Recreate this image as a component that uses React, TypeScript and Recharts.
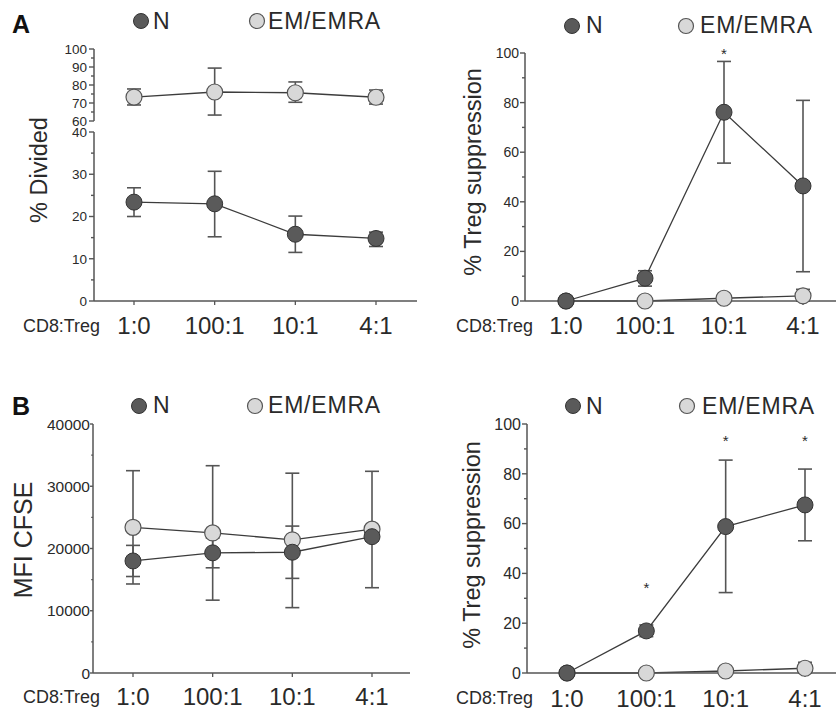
import React from 'react';
import { LineChart, Line, XAxis, YAxis, ErrorBar, ReferenceDot } from 'recharts';

// ---------- data ----------
const categories = ['1:0', '100:1', '10:1', '4:1'];

// Panel A left: % Divided
const aDivN = [23.4, 23.0, 15.8, 14.8];
const aDivNHi = [26.8, 30.7, 20.1, 16.3];
const aDivNLo = [20.0, 15.2, 11.5, 12.9];
const aDivEM = [73.3, 76.1, 75.7, 73.2];
const aDivEMHi = [77.8, 89.4, 81.7, 77.2];
const aDivEMLo = [68.9, 63.3, 70.4, 69.4];

// Panel A right: % Treg suppression
const aSupN = [0, 9.2, 76.1, 46.4];
const aSupNHi = [0, 12.2, 96.6, 80.9];
const aSupNLo = [0, 6.0, 55.6, 11.8];
const aSupEM = [0, 0, 1.1, 2.1];
const aSupEMHi = [0, 0, 1.6, 4.7];
const aSupEMLo = [0, 0, 0.6, 0];
const aSupStars = [{ cat: '10:1', y: 101 }];

// Panel B left: MFI CFSE
const bMfiN = [18000, 19300, 19400, 21900];
const bMfiNHi = [20500, 21700, 23600, 22600];
const bMfiNLo = [15500, 16900, 15200, 21200];
const bMfiEM = [23400, 22500, 21400, 23100];
const bMfiEMHi = [32500, 33300, 32100, 32400];
const bMfiEMLo = [14300, 11700, 10500, 13700];

// Panel B right: % Treg suppression
const bSupN = [0, 16.9, 58.8, 67.5];
const bSupNHi = [0, 19.3, 85.5, 81.9];
const bSupNLo = [0, 14.6, 32.3, 53.1];
const bSupEM = [0, 0, 0.8, 1.9];
const bSupEMHi = [0, 0, 1.2, 4.3];
const bSupEMLo = [0, 0, 0.4, 0];
const bSupStars = [
  { cat: '100:1', y: 35.3 },
  { cat: '10:1', y: 94.4 },
  { cat: '4:1', y: 94.4 },
];

// tick sets
const divTopTicks = [60, 65, 70, 75, 80, 85, 90, 95, 100];
const divTopMajor = [60, 70, 80, 90, 100];
const divBotTicks = [0, 5, 10, 15, 20, 25, 30, 35, 40];
const divBotMajor = [0, 10, 20, 30, 40];
const supTicks = [0, 10, 20, 30, 40, 50, 60, 70, 80, 90, 100];
const supMajor = [0, 20, 40, 60, 80, 100];
const mfiTicks = [0, 5000, 10000, 15000, 20000, 25000, 30000, 35000, 40000];
const mfiMajor = [0, 10000, 20000, 30000, 40000];

const build = (n: number[], nHi: number[], nLo: number[], em: number[], emHi: number[], emLo: number[]) =>
  categories.map((cat, i) => ({
    cat,
    n: n[i],
    em: em[i],
    nErr: [n[i] - nLo[i], nHi[i] - n[i]],
    emErr: [em[i] - emLo[i], emHi[i] - em[i]],
  }));

const dataADiv = build(aDivN, aDivNHi, aDivNLo, aDivEM, aDivEMHi, aDivEMLo);
const dataASup = build(aSupN, aSupNHi, aSupNLo, aSupEM, aSupEMHi, aSupEMLo);
const dataBMfi = build(bMfiN, bMfiNHi, bMfiNLo, bMfiEM, bMfiEMHi, bMfiEMLo);
const dataBSup = build(bSupN, bSupNHi, bSupNLo, bSupEM, bSupEMHi, bSupEMLo);

// ---------- style ----------
const W = 836;
const H = 711;
const FONT = '"Liberation Sans", Arial, Helvetica, sans-serif';
const AXIS = '#555';
const TEXT = '#2a2a2a';
const LINE = '#3c3c3c';
const ERR = '#555';
const N_FILL = '#5a5a5a';
const N_STROKE = '#333';
const EM_FILL = '#d8d8d8';
const EM_STROKE = '#555';
const Y_AXIS_W = 60;

const makeYTick = (axisX: number, major: number[], fontSize: number, size: number, gap: number) => (props: any) => {
  const { y, payload } = props;
  const v = payload.value;
  const isMajor = major.includes(v);
  return (
    <g>
      <line x1={axisX - (isMajor ? size : size * 0.6)} x2={axisX} y1={y} y2={y} stroke={AXIS} strokeWidth={1.4} />
      {isMajor && (
        <text x={axisX - size - gap} y={y} dy="0.36em" textAnchor="end" fontSize={fontSize} fill={TEXT} fontFamily={FONT}>
          {v}
        </text>
      )}
    </g>
  );
};

const VTitle = (p: { text: string; cx: number; cy: number; size: number }) => (
  <text
    x={p.cx}
    y={p.cy}
    transform={`rotate(-90 ${p.cx} ${p.cy})`}
    textAnchor="middle"
    dominantBaseline="central"
    fontSize={p.size}
    fill={TEXT}
    fontFamily={FONT}
  >
    {p.text}
  </text>
);

const XTitle = (p: { px: number; py: number }) => (
  <text x={p.px} y={p.py} fontSize={18} fill={TEXT} fontFamily={FONT} textLength={77} lengthAdjust="spacingAndGlyphs">
    CD8:Treg
  </text>
);

const starShape = (props: any) => (
  <text x={props.cx} y={props.cy} dy={8} textAnchor="middle" fontSize={15} fill={TEXT} fontFamily={FONT}>
    *
  </text>
);

const nDot = { r: 8, fill: N_FILL, stroke: N_STROKE, strokeWidth: 1 };
const emDot = { r: 8, fill: EM_FILL, stroke: EM_STROKE, strokeWidth: 1.2 };

type ChartProps = {
  data: any[];
  axisX: number;
  axisEnd: number;
  plotTop: number;
  plotBottom: number;
  xHeight: number;
  catFirst: number;
  catLast: number;
  domain: [number, number];
  ticks: number[];
  major: number[];
  tickFont: number;
  tickSize: number;
  tickGap: number;
  showX: boolean;
  xTickGap?: number;
  showN: boolean;
  showEM: boolean;
  stars?: { cat: string; y: number }[];
  yTitle?: { text: string; cx: number; cy: number; size: number };
  xTitle?: { px: number; py: number };
};

const Panel = (c: ChartProps) => {
  const margin = {
    top: c.plotTop,
    left: c.axisX - Y_AXIS_W,
    right: W - c.axisEnd,
    bottom: H - c.plotBottom - (c.showX ? c.xHeight : 0),
  };
  return (
    <div style={{ position: 'absolute', left: 0, top: 0 }}>
      <LineChart width={W} height={H} data={c.data} margin={margin}>
        <XAxis
          dataKey="cat"
          hide={!c.showX}
          height={c.xHeight}
          padding={{ left: c.catFirst - c.axisX, right: c.axisEnd - c.catLast }}
          axisLine={{ stroke: AXIS, strokeWidth: 1.5 }}
          tickLine={{ stroke: AXIS, strokeWidth: 1.3 }}
          tickSize={4}
          tickMargin={c.xTickGap ?? 12}
          interval={0}
          tick={{ fontSize: 24, fill: TEXT, fontFamily: FONT }}
          label={c.xTitle ? <XTitle px={c.xTitle.px} py={c.xTitle.py} /> : undefined}
        />
        <YAxis
          width={Y_AXIS_W}
          type="number"
          domain={c.domain}
          ticks={c.ticks}
          interval={0}
          axisLine={{ stroke: AXIS, strokeWidth: 1.5 }}
          tickLine={false}
          tickSize={c.tickSize}
          tickMargin={c.tickGap}
          tick={makeYTick(c.axisX, c.major, c.tickFont, c.tickSize, c.tickGap)}
          label={c.yTitle ? <VTitle {...c.yTitle} /> : undefined}
        />
        {c.showEM && (
          <Line dataKey="em" stroke={LINE} strokeWidth={1.3} dot={emDot} isAnimationActive={false}>
            <ErrorBar dataKey="emErr" width={7} stroke={ERR} strokeWidth={1.6} direction="y" />
          </Line>
        )}
        {c.showN && (
          <Line dataKey="n" stroke={LINE} strokeWidth={1.3} dot={nDot} isAnimationActive={false}>
            <ErrorBar dataKey="nErr" width={7} stroke={ERR} strokeWidth={1.6} direction="y" />
          </Line>
        )}
        {(c.stars || []).map((s) => (
          <ReferenceDot key={s.cat} x={s.cat} y={s.y} r={0} ifOverflow="visible" shape={starShape} />
        ))}
      </LineChart>
    </div>
  );
};

const LegendRow = (p: { nx: number; cy: number; ntx: number; emx: number; emtx: number; base: number }) => (
  <g>
    <circle cx={p.nx} cy={p.cy} r={7.5} fill={N_FILL} stroke={N_STROKE} strokeWidth={1} />
    <text x={p.ntx} y={p.base} fontSize={23} fill={TEXT} fontFamily={FONT} letterSpacing={0.8}>
      N
    </text>
    <circle cx={p.emx} cy={p.cy} r={7.5} fill={EM_FILL} stroke={EM_STROKE} strokeWidth={1.2} />
    <text x={p.emtx} y={p.base} fontSize={23} fill={TEXT} fontFamily={FONT} letterSpacing={0.8}>
      EM/EMRA
    </text>
  </g>
);

export default function App() {
  return (
    <div style={{ position: 'absolute', left: 0, top: 0, width: W, height: H, background: '#fff', overflow: 'hidden' }}>
      {/* A left, upper segment (60-100) */}
      <Panel
        data={dataADiv}
        axisX={94}
        axisEnd={417}
        plotTop={49}
        plotBottom={121}
        xHeight={0}
        catFirst={134}
        catLast={376}
        domain={[60, 100]}
        ticks={divTopTicks}
        major={divTopMajor}
        tickFont={13.5}
        tickSize={5}
        tickGap={2}
        showX={false}
        showN={false}
        showEM={true}
      />
      {/* A left, lower segment (0-40) */}
      <Panel
        data={dataADiv}
        axisX={94}
        axisEnd={417}
        plotTop={132}
        plotBottom={301}
        xHeight={50}
        catFirst={134}
        catLast={376}
        domain={[0, 40]}
        ticks={divBotTicks}
        major={divBotMajor}
        tickFont={13.5}
        tickSize={5}
        tickGap={2}
        showX={true}
        showN={true}
        showEM={false}
        yTitle={{ text: '% Divided', cx: 39, cy: 170, size: 23.5 }}
        xTitle={{ px: 23, py: 332 }}
      />
      {/* A right */}
      <Panel
        data={dataASup}
        axisX={525}
        axisEnd={836}
        plotTop={53}
        plotBottom={301}
        xHeight={50}
        catFirst={566}
        catLast={803}
        domain={[0, 100]}
        ticks={supTicks}
        major={supMajor}
        tickFont={14}
        tickSize={5}
        tickGap={1}
        showX={true}
        showN={true}
        showEM={true}
        stars={aSupStars}
        yTitle={{ text: '% Treg suppression', cx: 473, cy: 172, size: 23.5 }}
        xTitle={{ px: 456, py: 332 }}
      />
      {/* B left */}
      <Panel
        data={dataBMfi}
        axisX={93}
        axisEnd={410}
        plotTop={424}
        plotBottom={673}
        xHeight={38}
        catFirst={133}
        catLast={372}
        domain={[0, 40000]}
        ticks={mfiTicks}
        major={mfiMajor}
        tickFont={15.5}
        tickSize={3}
        tickGap={0}
        showX={true}
        xTickGap={11}
        showN={true}
        showEM={true}
        yTitle={{ text: 'MFI CFSE', cx: 23, cy: 540, size: 25 }}
        xTitle={{ px: 23, py: 703 }}
      />
      {/* B right */}
      <Panel
        data={dataBSup}
        axisX={527}
        axisEnd={836}
        plotTop={424}
        plotBottom={673}
        xHeight={38}
        catFirst={567}
        catLast={805}
        domain={[0, 100]}
        ticks={supTicks}
        major={supMajor}
        tickFont={16}
        tickSize={5}
        tickGap={1}
        showX={true}
        xTickGap={13}
        showN={true}
        showEM={true}
        stars={bSupStars}
        yTitle={{ text: '% Treg suppression', cx: 472, cy: 545, size: 23.5 }}
        xTitle={{ px: 456, py: 704 }}
      />
      {/* panel letters and legends */}
      <svg width={W} height={H} style={{ position: 'absolute', left: 0, top: 0, pointerEvents: 'none' }}>
        <text x={12} y={33} fontSize={25} fontWeight="bold" fill="#111" fontFamily={FONT}>
          A
        </text>
        <text x={12} y={415} fontSize={25} fontWeight="bold" fill="#111" fontFamily={FONT}>
          B
        </text>
        <LegendRow nx={141} cy={21} ntx={153} emx={257} emtx={268} base={29} />
        <LegendRow nx={572} cy={26} ntx={586} emx={686} emtx={700} base={33} />
        <LegendRow nx={139} cy={406} ntx={153} emx={255} emtx={268} base={413} />
        <LegendRow nx={573} cy={406} ntx={586} emx={687} emtx={702} base={414} />
      </svg>
    </div>
  );
}
